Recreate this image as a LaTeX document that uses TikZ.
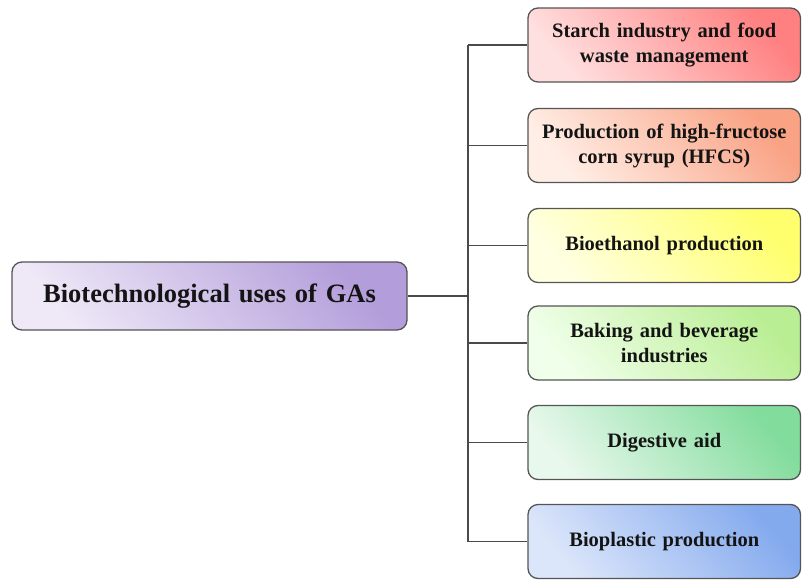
\documentclass[tikz,border=0pt]{standalone}
\usepackage{fontspec}
\setmainfont{Liberation Serif}
\definecolor{boxborder}{HTML}{555555}
\definecolor{linkgray}{HTML}{4A4A4A}
\definecolor{txt}{HTML}{141414}
\definecolor{redA}{HTML}{FF8080}\definecolor{redB}{HTML}{FFE0E0}
\definecolor{oraA}{HTML}{F9A284}\definecolor{oraB}{HTML}{FFEEE6}
\definecolor{yelA}{HTML}{FFFF6E}\definecolor{yelB}{HTML}{FFFFE2}
\definecolor{lgrA}{HTML}{BAEE94}\definecolor{lgrB}{HTML}{F0FFEA}
\definecolor{grnA}{HTML}{82DC9C}\definecolor{grnB}{HTML}{E8F8EC}
\definecolor{bluA}{HTML}{84AAEE}\definecolor{bluB}{HTML}{DCE6FA}
\definecolor{purA}{HTML}{B39DDA}\definecolor{purB}{HTML}{EEE8F7}
\begin{document}
\begin{tikzpicture}[x=1pt,y=-1pt,
  grad/.style 2 args={top color=#1, bottom color=#2, shading angle=-50},
  base/.style={draw=boxborder, line width=1.3pt, rounded corners=10pt, inner sep=0pt,
    align=center, text=txt},
  leaf/.style={base, font=\fontsize{20.5}{25}\selectfont\bfseries,
    minimum width=272.5pt, minimum height=74pt, text width=265pt},
  rootbox/.style={base, font=\fontsize{26.5}{32}\selectfont\bfseries,
    minimum width=395pt, minimum height=68pt, text width=385pt},
  link/.style={draw=linkgray, line width=1.7pt}]
\useasboundingbox (0,0) rectangle (802,580);
\node[rootbox, grad={purA}{purB}] (root) at (209.5,296) {Biotechnological uses of GAs};
\node[leaf, grad={redA}{redB}] (b1) at (664.25,45) {Starch industry and food\\waste management};
\node[leaf, grad={oraA}{oraB}] (b2) at (664.25,145.5) {Production of high-fructose\\corn syrup (HFCS)};
\node[leaf, grad={yelA}{yelB}] (b3) at (664.25,245.5) {Bioethanol production};
\node[leaf, grad={lgrA}{lgrB}] (b4) at (664.25,343) {Baking and beverage\\industries};
\node[leaf, grad={grnA}{grnB}] (b5) at (664.25,442.5) {Digestive aid};
\node[leaf, grad={bluA}{bluB}] (b6) at (664.25,541.5) {Bioplastic production};
\coordinate (j) at (468,296);
\draw[link] (root.east) -- (j);
\draw[link] (j |- b1.west) -- (j |- b6.west);
\foreach \b in {b1,b2,b3,b4,b5,b6}{
  \draw[link] (j |- \b.west) -- (\b.west);
}
\end{tikzpicture}
\end{document}
